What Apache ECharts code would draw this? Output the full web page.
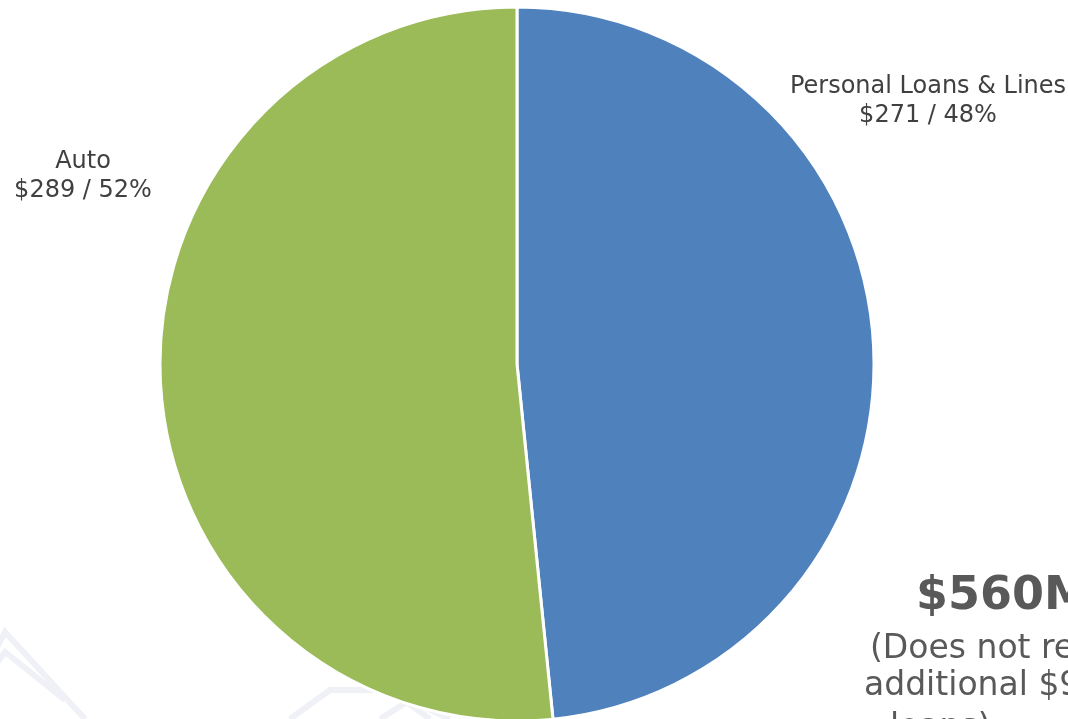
<!DOCTYPE html>
<html>
<head>
<meta charset="utf-8">
<script src="https://cdn.jsdelivr.net/npm/echarts@6/dist/echarts.min.js"></script>
<style>
  html, body { margin: 0; padding: 0; background: #fff; }
  #chart { width: 1068px; height: 719px; }
</style>
</head>
<body>
<div id="chart"></div>
<script>
  // loan portfolio split ($M)
  const categories = ['Personal Loans & Lines', 'Auto'];
  const amounts = [271, 289];
  const percents = [48, 52];
  const colors = ['#4F81BD', '#9BBB59'];
  const totalText = '$560M';
  const noteLines = ['(Does not reflect', 'additional $9', 'loans)'];

  // where the data labels sit (Excel put them by hand)
  const labelSpots = [[928, 101], [83, 176]];

  const labelFont = 'Verdana, "DejaVu Sans", sans-serif';

  let chart = echarts.init(document.getElementById('chart'), null, {renderer: 'canvas'});

  let pieData = categories.map((name, i) => ({
    name: name,
    value: amounts[i],
    itemStyle: {color: colors[i]}
  }));

  // faint watermark shapes in the background
  let watermark = [
    [[-30, 700], [5, 652], [65, 700]],
    [[-40, 719], [5, 632], [85, 719]],
    [[290, 719], [330, 690], [390, 690], [430, 719]],
    [[380, 719], [410, 700], [450, 719]]
  ].map(pts => ({
    type: 'polyline',
    z: -10,
    shape: {points: pts},
    style: {stroke: '#f0f1f6', lineWidth: 6, fill: null}
  }));

  let noteLeft = [870, 864, 890];
  let noteTop = [633, 670, 712];
  let noteText = noteLines.map((t, i) => ({
    type: 'text',
    left: noteLeft[i],
    top: noteTop[i],
    style: {text: t, font: '33px ' + labelFont, fill: '#595959'}
  }));

  let option = {
    backgroundColor: '#ffffff',
    animation: false,
    graphic: watermark.concat([
      {
        type: 'text',
        left: 916,
        top: 574,
        style: {text: totalText, font: 'bold 46px ' + labelFont, fill: '#595959'}
      }
    ]).concat(noteText),
    series: [{
      type: 'pie',
      center: [517, 364],
      radius: [0, 357],
      startAngle: 90,
      clockwise: true,
      data: pieData,
      itemStyle: {borderColor: '#ffffff', borderWidth: 3},
      label: {
        show: true,
        formatter: p => p.name + '\n$' + p.value + ' / ' + percents[p.dataIndex] + '%',
        fontFamily: labelFont,
        fontSize: 24,
        lineHeight: 29,
        color: '#404040',
        align: 'center',
        overflow: 'none'
      },
      labelLine: {show: false},
      labelLayout: function (params) {
        let spot = labelSpots[params.dataIndex];
        return {x: spot[0], y: spot[1], align: 'center', verticalAlign: 'middle', hideOverlap: false};
      },
      emphasis: {disabled: true}
    }]
  };

  chart.setOption(option);
</script>
</body>
</html>
